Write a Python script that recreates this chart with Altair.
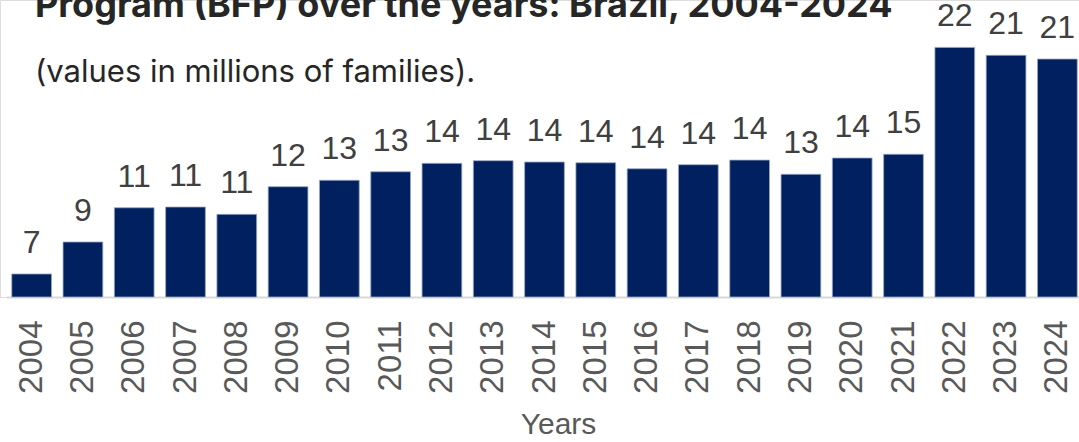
import altair as alt
import pandas as pd

years = [str(y) for y in range(2004, 2025)]
families = [6.54, 8.68, 10.97, 11.02, 10.53, 12.38, 12.81, 13.38, 13.94, 14.12,
            14.03, 13.98, 13.58, 13.85, 14.16, 13.21, 14.30, 14.55, 21.70, 21.17, 20.92]
labels = [str(int(round(v))) for v in families]

title_text = "Program (BFP) over the years: Brazil, 2004-2024"
subtitle_text = "(values in millions of families)."

df = pd.DataFrame({"year": years, "value": families, "label": labels})

x_enc = alt.X(
    "year:N",
    sort=years,
    scale=alt.Scale(range=[6, 1083], paddingInner=0.225, paddingOuter=0.1125),
    axis=alt.Axis(
        title="Years",
        labelAngle=270,
        labelAlign="right",
        labelBaseline="middle",
        labelFont="Liberation Sans",
        labelFontSize=33,
        labelColor="#595959",
        labelPadding=23,
        ticks=False,
        domainColor="#d9d9d9",
        domainWidth=2,
        titleFont="Liberation Sans",
        titleFontSize=30,
        titleFontWeight="normal",
        titleColor="#595959",
        titleX=558,
        titleY=136,
        titleAlign="center",
        titleBaseline="alphabetic",
    ),
)
y_scale = alt.Scale(domain=[5, 24.87], zero=False, nice=False)

base = alt.Chart(df)
bars = base.mark_bar(color="#002060", stroke="#9aa8c4", strokeWidth=0.8).encode(
    x=x_enc,
    y=alt.Y("value:Q", scale=y_scale, axis=None),
    y2=alt.datum(5),
)
text = base.mark_text(
    dy=-21, baseline="alphabetic", align="center",
    font="Liberation Sans", fontSize=32, color="#404040"
).encode(
    x=alt.X("year:N", sort=years),
    y=alt.Y("value:Q", scale=y_scale),
    text="label:N",
)

title = alt.Chart(pd.DataFrame({"t": [title_text]})).mark_text(
    align="left", baseline="alphabetic", font="Inter", fontWeight="bold",
    fontSize=36, color="#262626"
).encode(x=alt.value(35), y=alt.value(17), text="t:N")

subtitle = alt.Chart(pd.DataFrame({"t": [subtitle_text]})).mark_text(
    align="left", baseline="alphabetic", font="Inter",
    fontSize=31, color="#262626"
).encode(x=alt.value(35), y=alt.value(82), text="t:N")

chart = alt.layer(bars, text, title, subtitle).properties(
    width=1079,
    height=297,
    autosize=alt.AutoSizeParams(type="none"),
    padding={"left": 0, "top": 0, "right": 0, "bottom": 145},
).configure_view(stroke=None).configure(background="white")

chart.save("out.html", embed_options={"renderer": "svg", "actions": False})
